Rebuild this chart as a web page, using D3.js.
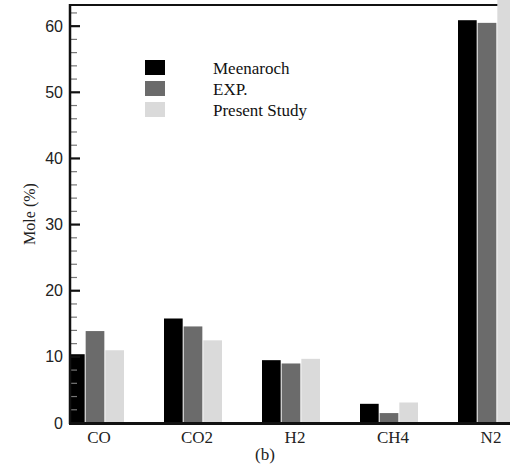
<!DOCTYPE html>
<html>
<head>
<meta charset="utf-8">
<script src="https://cdn.jsdelivr.net/npm/d3@7"></script>
<style>
  body { margin: 0; background: #fff; }
  svg { display: block; }
</style>
</head>
<body>
<svg id="chart"></svg>
<script>
const width = 510
const height = 465

const gases = ["CO", "CO2", "H2", "CH4", "N2"]
const seriesNames = ["Meenaroch", "EXP.", "Present Study"]
const seriesColors = ["#000000", "#6b6b6b", "#dadada"]
const meenaroch = [10.4, 15.8, 9.5, 2.9, 60.9]
const experiment = [13.9, 14.6, 9.0, 1.5, 60.5]
const presentStudy = [11.0, 12.5, 9.7, 3.1, 64.5]
const yTicks = [0, 10, 20, 30, 40, 50, 60]

const seriesValues = [meenaroch, experiment, presentStudy]

const plot = { left: 70, right: 510, top: 5, bottom: 423 }

const svg = d3.select("#chart")
	.attr("width", width)
	.attr("height", height)

const x = d3.scaleBand()
	.domain(gases)
	.range([46, 536])

const xSeries = d3.scaleBand()
	.domain(d3.range(seriesNames.length))
	.range([0, 58])
	.paddingInner(0.05)

const y = d3.scaleLinear()
	.domain([0, 63.2])
	.range([plot.bottom, plot.top])

svg.append("clipPath")
	.attr("id", "plot-clip")
	.append("rect")
	.attr("x", plot.left)
	.attr("y", 0)
	.attr("width", plot.right - plot.left)
	.attr("height", plot.bottom)

// Frame top line (drawn before bars so the tall bar covers it)
svg.append("line")
	.attr("x1", plot.left).attr("x2", plot.right)
	.attr("y1", plot.top).attr("y2", plot.top)
	.attr("stroke", "#111")
	.attr("stroke-width", 2)

// Bars
const barData = []
gases.forEach((g, i) => {
	seriesValues.forEach((vals, s) => {
		barData.push({ gas: g, series: s, value: vals[i] })
	})
})

const groupOffset = (x.bandwidth() - 58) / 2

svg.append("g")
	.attr("clip-path", "url(#plot-clip)")
	.selectAll("rect")
	.data(barData)
	.enter().append("rect")
	.attr("x", d => x(d.gas) + groupOffset + xSeries(d.series))
	.attr("y", d => y(d.value))
	.attr("width", xSeries.bandwidth())
	.attr("height", d => y(0) - y(d.value))
	.attr("fill", d => seriesColors[d.series])

// Y axis labels (tick marks drawn separately, pointing inward)
const yAxis = d3.axisLeft(y)
	.tickValues(yTicks)
	.tickSize(0)
	.tickPadding(7)

const yAxisG = svg.append("g")
	.attr("transform", `translate(${plot.left},0)`)
	.call(yAxis)

yAxisG.select(".domain").remove()
yAxisG.selectAll(".tick line").remove()
yAxisG.selectAll(".tick text")
	.attr("font-family", "Arial, 'Liberation Sans', sans-serif")
	.attr("font-size", 16)
	.attr("fill", "#222")

// Major ticks
svg.append("g")
	.selectAll("line")
	.data(yTicks)
	.enter().append("line")
	.attr("x1", plot.left)
	.attr("x2", plot.left + 10)
	.attr("y1", d => y(d))
	.attr("y2", d => y(d))
	.attr("stroke", "#111")
	.attr("stroke-width", 2.2)

// Minor ticks
const minorTicks = d3.range(2, 63, 2).filter(v => v % 10 !== 0)
svg.append("g")
	.selectAll("line")
	.data(minorTicks)
	.enter().append("line")
	.attr("x1", plot.left)
	.attr("x2", plot.left + 7)
	.attr("y1", d => y(d))
	.attr("y2", d => y(d))
	.attr("stroke", "#777")
	.attr("stroke-width", 1.2)

// Left axis line
svg.append("line")
	.attr("x1", plot.left).attr("x2", plot.left)
	.attr("y1", plot.top - 1).attr("y2", plot.bottom + 1)
	.attr("stroke", "#111")
	.attr("stroke-width", 2.5)

// Bottom axis line
svg.append("line")
	.attr("x1", plot.left - 1).attr("x2", plot.right)
	.attr("y1", plot.bottom + 0.5).attr("y2", plot.bottom + 0.5)
	.attr("stroke", "#111")
	.attr("stroke-width", 3)

// Category labels
svg.append("g")
	.selectAll("text")
	.data(gases)
	.enter().append("text")
	.attr("x", d => x(d) + x.bandwidth() / 2 + 4)
	.attr("y", 443)
	.attr("text-anchor", "middle")
	.attr("font-family", "'Liberation Serif', 'Times New Roman', serif")
	.attr("font-size", 17)
	.attr("fill", "#222")
	.text(d => d)

// Y axis title
svg.append("text")
	.attr("transform", "translate(35,214) rotate(-90)")
	.attr("text-anchor", "middle")
	.attr("font-family", "'Liberation Serif', 'Times New Roman', serif")
	.attr("font-size", 16)
	.attr("fill", "#222")
	.text("Mole (%)")

// Caption
svg.append("text")
	.attr("x", 265)
	.attr("y", 460)
	.attr("text-anchor", "middle")
	.attr("font-family", "'Liberation Serif', 'Times New Roman', serif")
	.attr("font-size", 17)
	.attr("fill", "#222")
	.text("(b)")

// Legend
const legend = svg.append("g")
	.selectAll("g")
	.data(seriesNames)
	.enter().append("g")
	.attr("transform", (d, i) => `translate(145,${60 + i * 21})`)

legend.append("rect")
	.attr("width", 20)
	.attr("height", 15)
	.attr("fill", (d, i) => seriesColors[i])

legend.append("text")
	.attr("x", 68)
	.attr("y", 14)
	.attr("font-family", "'Liberation Serif', 'Times New Roman', serif")
	.attr("font-size", 17)
	.attr("fill", "#111")
	.text(d => d)
</script>
</body>
</html>
